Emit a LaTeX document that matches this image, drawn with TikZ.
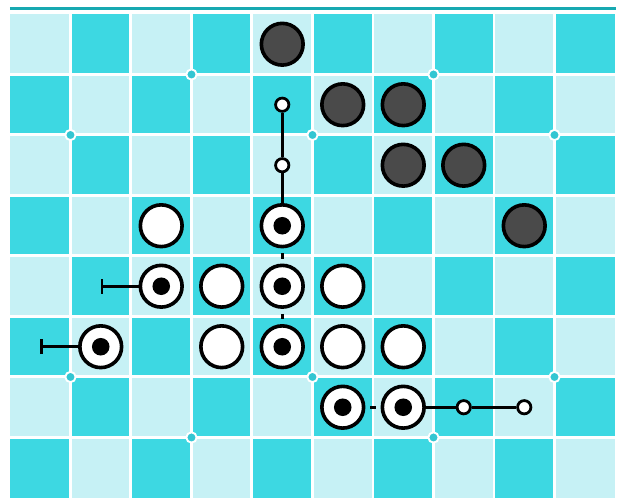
\documentclass[tikz,border=0pt]{standalone}
\usepackage{tikz}
\usetikzlibrary{arrows.meta}
\definecolor{cellLight}{HTML}{C6F1F5}
\definecolor{cellDark}{HTML}{3DD8E2}
\definecolor{rimTeal}{HTML}{17A9B1}
\definecolor{starTeal}{HTML}{33C6D2}
\definecolor{stoneGray}{HTML}{4A4A4A}
\tikzstyle{blackstone} = [circle, minimum size=0.69cm, inner sep=0pt, draw=black, line width=1.7pt, fill=stoneGray]
\tikzstyle{whitestone} = [circle, minimum size=0.69cm, inner sep=0pt, draw=black, line width=1.7pt, fill=white]
\tikzstyle{markstone} = [whitestone, path picture={\fill[black] (path picture bounding box.center) circle (0.145cm);}]
\tikzstyle{point} = [circle, minimum size=0.22cm, inner sep=0pt, draw=black, line width=1.3pt, fill=white]
\tikzstyle{link} = [line width=1.3pt]
\tikzstyle{bond} = [link, shorten <=0.08cm, shorten >=0.08cm]
\tikzstyle{tail} = [link, -{Bar[width=7pt,line width=1.3pt]}]

\begin{document}
\begin{tikzpicture}[x=1cm, y=-1cm]
\useasboundingbox (-0.165,-0.231) rectangle (10.083,8.067);

% --------- Board ----------
\draw [rimTeal, line width=1.4pt] (0,-0.083) -- (10.02,-0.083);
\fill [cellLight] (0,0) rectangle (10,8);
\foreach \c in {0,...,9} {
  \foreach \r in {0,...,7} {
    \pgfmathtruncatemacro{\odd}{mod(\c+\r,2)}
    \ifnum\odd=1 \fill [cellDark] (\c,\r) rectangle ++(1,1); \fi
  }
}
\foreach \c in {1,...,9} \draw [white, line width=1.4pt] (\c,0) -- (\c,8);
\foreach \r in {1,...,7} \draw [white, line width=1.4pt] (0,\r) -- (10,\r);

% star points on the grid lines
\foreach \p in {(3,1),(7,1),(1,2),(5,2),(9,2),(1,6),(5,6),(9,6),(3,7),(7,7)}
  \filldraw [fill=starTeal, draw=white, line width=0.9pt] \p circle (0.085);

% --------- Black stones ----------
\node (K40) [blackstone] at (4.5,0.5) {};
\node (K51) [blackstone] at (5.5,1.5) {};
\node (K61) [blackstone] at (6.5,1.5) {};
\node (K62) [blackstone] at (6.5,2.5) {};
\node (K72) [blackstone] at (7.5,2.5) {};
\node (K83) [blackstone] at (8.5,3.5) {};

% --------- White stones ----------
\node (W23) [whitestone] at (2.5,3.5) {};
\node (W34) [whitestone] at (3.5,4.5) {};
\node (W54) [whitestone] at (5.5,4.5) {};
\node (W35) [whitestone] at (3.5,5.5) {};
\node (W55) [whitestone] at (5.5,5.5) {};
\node (W65) [whitestone] at (6.5,5.5) {};

% marked white stones
\node (M43) [markstone] at (4.5,3.5) {};
\node (M24) [markstone] at (2.5,4.5) {};
\node (M44) [markstone] at (4.5,4.5) {};
\node (M15) [markstone] at (1.5,5.5) {};
\node (M45) [markstone] at (4.5,5.5) {};
\node (M56) [markstone] at (5.5,6.5) {};
\node (M66) [markstone] at (6.5,6.5) {};

% small points
\node (P41) [point] at (4.5,1.5) {};
\node (P42) [point] at (4.5,2.5) {};
\node (P76) [point] at (7.5,6.5) {};
\node (P86) [point] at (8.5,6.5) {};

% free ends of the tails
\coordinate (T14) at (1.5,4.5);
\coordinate (T05) at (0.5,5.5);

% --------- Connectors ----------
\draw [link] (P41) -- (P42);
\draw [link] (P42) -- (M43);
\draw [bond] (M43) -- (M44);
\draw [bond] (M44) -- (M45);
\draw [bond] (M56) -- (M66);
\draw [link] (M66) -- (P76);
\draw [link] (P76) -- (P86);
\draw [tail] (M24) -- (T14);
\draw [tail] (M15) -- (T05);

\end{tikzpicture}
\end{document}
